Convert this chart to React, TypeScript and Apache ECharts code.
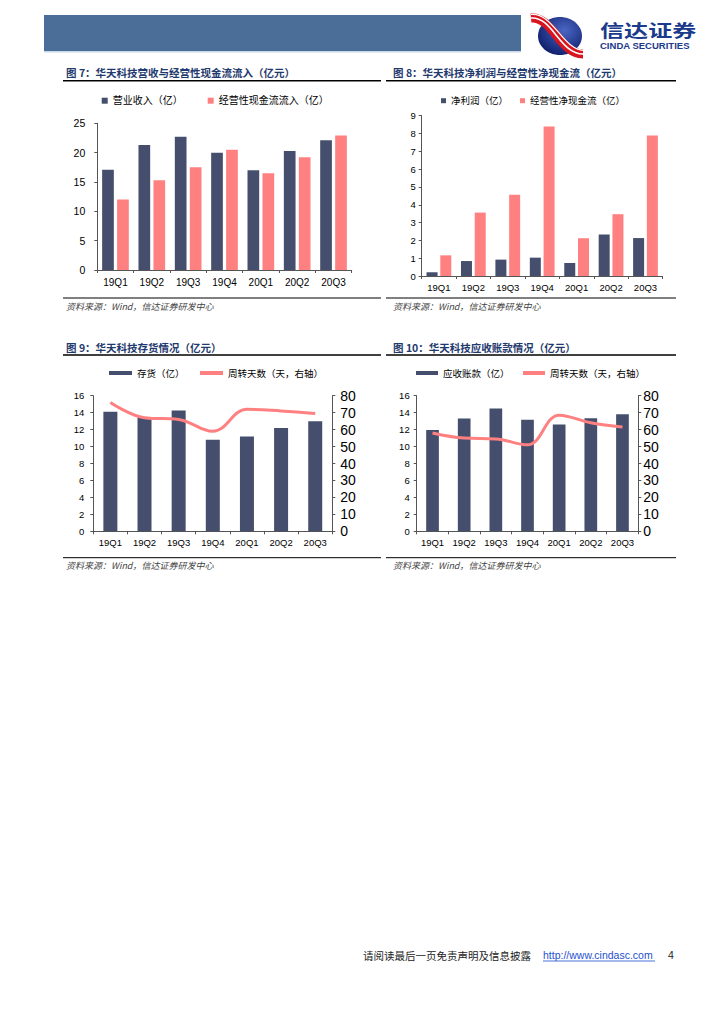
import React, { useEffect, useRef } from "react";
import * as echarts from "echarts";

const categories = ["19Q1", "19Q2", "19Q3", "19Q4", "20Q1", "20Q2", "20Q3"];
const revenue = [17.1, 21.3, 22.7, 20.0, 17.0, 20.3, 22.1];
const opCashIn = [12.0, 15.3, 17.5, 20.5, 16.5, 19.2, 22.9];
const netProfit = [0.21, 0.84, 0.92, 1.03, 0.73, 2.33, 2.13];
const opNetCash = [1.16, 3.56, 4.56, 8.4, 2.12, 3.47, 7.89];
const inventory = [14.1, 13.45, 14.25, 10.8, 11.2, 12.2, 13.0];
const invDays = [76, 67, 66, 59, 72, 71, 69.5];
const receivables = [11.95, 13.3, 14.5, 13.15, 12.6, 13.35, 13.8];
const arDays = [58, 55, 54.5, 51, 68.5, 64, 61.5];

const titles = [
  "图 7：华天科技营收与经营性现金流流入（亿元）",
  "图 8：华天科技净利润与经营性净现金流（亿元）",
  "图 9：华天科技存货情况（亿元）",
  "图 10：华天科技应收账款情况（亿元）",
];
const sourceText = "资料来源：Wind，信达证券研发中心";

const NAVY = "#454f6d";
const PINK = "#ff8080";
const AXIS = "#555";
const FONT = "'Liberation Sans', Arial, 'Noto Sans CJK SC', sans-serif";
const CJK = "'Noto Sans CJK SC', sans-serif";

function catAxis(gridIndex: number, fontSize: number, margin: number) {
  return {
    type: "category",
    gridIndex,
    data: categories,
    axisLine: { show: true, lineStyle: { color: AXIS, width: 1 } },
    axisTick: { show: true, length: 3, lineStyle: { color: AXIS } },
    axisLabel: { color: "#000", fontSize, margin, fontFamily: FONT },
    splitLine: { show: false },
  };
}

function valAxis(
  gridIndex: number,
  max: number,
  interval: number,
  fontSize: number,
  margin: number,
  position: string = "left"
) {
  return {
    type: "value",
    gridIndex,
    position,
    min: 0,
    max,
    interval,
    axisLine: { show: true, lineStyle: { color: AXIS, width: 1 } },
    axisTick: { show: true, length: 3, lineStyle: { color: AXIS } },
    axisLabel: { color: "#000", fontSize, margin, fontFamily: FONT },
    splitLine: { show: false },
  };
}

function txt(x: number, y: number, text: string, fontSize: number, fill: string, extra: any = {}) {
  return {
    type: "text",
    x,
    y,
    style: {
      text,
      fontSize,
      fill,
      fontFamily: CJK,
      align: "left",
      verticalAlign: "middle",
      ...extra,
    },
  };
}

function hline(x1: number, x2: number, y: number, w: number, color = "#000") {
  return {
    type: "line",
    shape: { x1, y1: y, x2, y2: y },
    style: { stroke: color, lineWidth: w },
  };
}

export default function App() {
  const ref = useRef<HTMLDivElement>(null);
  useEffect(() => {
    if (!ref.current) return;
    const chart = echarts.init(ref.current, undefined, { renderer: "svg" });

    const titleStyle = { fontWeight: "bold", fontFamily: CJK };
    const srcStyle = { fontStyle: "italic", fontFamily: CJK };

    const graphic: any[] = [
      // header band
      { type: "rect", shape: { x: 44, y: 15, width: 477, height: 36 }, style: { fill: "#4b6e98" } },
      { type: "rect", shape: { x: 44, y: 51, width: 477, height: 1.5 }, style: { fill: "#c9d7e8" } },
      // logo
      {
        type: "ellipse",
        shape: { cx: 560, cy: 36, rx: 22, ry: 19 },
        style: {
          fill: new echarts.graphic.RadialGradient(0.6, 0.35, 0.7, [
            { offset: 0, color: "#4a66c4" },
            { offset: 1, color: "#0e1d6a" },
          ]),
        },
      },
      {
        type: "bezierCurve",
        shape: { x1: 531, y1: 18, cpx1: 552, cpy1: 16, cpx2: 560, cpy2: 54, x2: 583, y2: 54 },
        style: { stroke: "#d8141e", lineWidth: 9, fill: "none" },
      },
      {
        type: "bezierCurve",
        shape: { x1: 531, y1: 18, cpx1: 552, cpy1: 16, cpx2: 560, cpy2: 54, x2: 583, y2: 54 },
        style: { stroke: "#ffffff", lineWidth: 1.6, fill: "none" },
      },
      {
        type: "bezierCurve",
        shape: { x1: 531, y1: 14.5, cpx1: 554, cpy1: 12.5, cpx2: 562, cpy2: 50.5, x2: 585, y2: 50.5 },
        style: { stroke: "#ffffff", lineWidth: 1.2, fill: "none" },
      },
      {
        type: "text",
        x: 600,
        y: 30,
        scaleX: 1.42,
        style: {
          text: "信达证券",
          fontSize: 17,
          fontWeight: "bold",
          fill: "#1b3a8c",
          fontFamily: CJK,
          align: "left",
          verticalAlign: "middle",
        },
      },
      {
        type: "text",
        x: 600,
        y: 46.5,
        scaleX: 1.12,
        style: {
          text: "CINDA SECURITIES",
          fontSize: 8.5,
          fontWeight: "bold",
          fill: "#1b3a8c",
          fontFamily: FONT,
          align: "left",
          verticalAlign: "middle",
        },
      },
      // chart 7 frame
      txt(66, 72, titles[0], 10.5, "#1f3a6e", titleStyle),
      hline(63, 381, 80.7, 1.5),
      hline(63, 381, 298, 1),
      txt(66, 306, sourceText, 9, "#444", srcStyle),
      // chart 8 frame
      txt(393, 72, titles[1], 10.5, "#1f3a6e", titleStyle),
      hline(386, 676, 80.7, 1.5),
      hline(386, 676, 298, 1),
      txt(393, 306, sourceText, 9, "#444", srcStyle),
      // chart 9 frame
      txt(66, 347, titles[2], 10.5, "#1f3a6e", titleStyle),
      hline(63, 381, 355, 1.5),
      hline(63, 381, 557.7, 1),
      txt(66, 565, sourceText, 9, "#444", srcStyle),
      // chart 10 frame
      txt(393, 347, titles[3], 10.5, "#1f3a6e", titleStyle),
      hline(386, 676, 355, 1.5),
      hline(386, 676, 557.7, 1),
      txt(393, 565, sourceText, 9, "#444", srcStyle),
      // footer
      txt(363, 955, "请阅读最后一页免责声明及信息披露", 10.5, "#222"),
      txt(543, 955, "http://www.cindasc.com", 10.5, "#1f4fd0", { fontFamily: FONT }),
      hline(543, 655, 961, 0.8, "#1f4fd0"),
      txt(668, 955, "4", 10.5, "#222", { fontFamily: FONT }),
    ];

    const legendText = (fs: number) => ({ color: "#000", fontSize: fs, fontFamily: FONT, lineHeight: 12 });

    chart.setOption({
      animation: false,
      backgroundColor: "#fff",
      graphic,
      grid: [
        { left: 97.3, right: 724 - 351.7, top: 123.3, bottom: 1024 - 270, containLabel: false },
        { left: 421.7, right: 724 - 662.7, top: 115.7, bottom: 1024 - 276, containLabel: false },
        { left: 93.3, right: 724 - 332.3, top: 395.7, bottom: 1024 - 531.3, containLabel: false },
        { left: 416.7, right: 724 - 638.3, top: 395.7, bottom: 1024 - 531.3, containLabel: false },
      ],
      legend: [
        {
          left: 101.7, top: 94.7, padding: 0, itemWidth: 6, itemHeight: 6, itemGap: 25, icon: "rect",
          data: ["营业收入（亿）", "经营性现金流流入（亿）"], textStyle: legendText(10), selectedMode: false,
        },
        {
          left: 441, top: 94.7, padding: 0, itemWidth: 5, itemHeight: 5, itemGap: 12, icon: "rect",
          data: ["净利润（亿）", "经营性净现金流（亿）"], textStyle: legendText(9.5), selectedMode: false,
        },
        {
          left: 109, top: 367, padding: 0, itemWidth: 23, itemHeight: 4, itemGap: 15.5, icon: "rect",
          data: ["存货（亿）", "周转天数（天，右轴）"], textStyle: legendText(9.5), selectedMode: false,
        },
        {
          left: 416, top: 367, padding: 0, itemWidth: 22, itemHeight: 4, itemGap: 13.5, icon: "rect",
          data: ["应收账款（亿）", "周转天数（天，右轴） "], textStyle: legendText(9.5), selectedMode: false,
        },
      ],
      xAxis: [catAxis(0, 10, 7), catAxis(1, 9.5, 7), catAxis(2, 9.5, 6), catAxis(3, 9.5, 6)],
      yAxis: [
        valAxis(0, 25, 5, 10.5, 12),
        valAxis(1, 9, 1, 9.5, 6),
        valAxis(2, 16, 2, 9.5, 9),
        valAxis(2, 80, 10, 14, 8, "right"),
        valAxis(3, 16, 2, 9.5, 7),
        valAxis(3, 80, 10, 14, 5, "right"),
      ],
      series: [
        { name: "营业收入（亿）", type: "bar", xAxisIndex: 0, yAxisIndex: 0, data: revenue, barWidth: 11.7, barGap: "28%", itemStyle: { color: NAVY } },
        { name: "经营性现金流流入（亿）", type: "bar", xAxisIndex: 0, yAxisIndex: 0, data: opCashIn, barWidth: 11.7, barGap: "28%", itemStyle: { color: PINK } },
        { name: "净利润（亿）", type: "bar", xAxisIndex: 1, yAxisIndex: 1, data: netProfit, barWidth: 11, barGap: "25%", itemStyle: { color: NAVY } },
        { name: "经营性净现金流（亿）", type: "bar", xAxisIndex: 1, yAxisIndex: 1, data: opNetCash, barWidth: 11, barGap: "25%", itemStyle: { color: PINK } },
        { name: "存货（亿）", type: "bar", xAxisIndex: 2, yAxisIndex: 2, data: inventory, barWidth: 14, itemStyle: { color: NAVY } },
        { name: "周转天数（天，右轴）", type: "line", xAxisIndex: 2, yAxisIndex: 3, data: invDays, smooth: 0.4, symbol: "none", lineStyle: { color: PINK, width: 3 }, itemStyle: { color: PINK } },
        { name: "应收账款（亿）", type: "bar", xAxisIndex: 3, yAxisIndex: 4, data: receivables, barWidth: 12.7, itemStyle: { color: NAVY } },
        { name: "周转天数（天，右轴） ", type: "line", xAxisIndex: 3, yAxisIndex: 5, data: arDays, smooth: 0.4, symbol: "none", lineStyle: { color: PINK, width: 3 }, itemStyle: { color: PINK } },
      ],
    });
    return () => chart.dispose();
  }, []);

  return (
    <div
      ref={ref}
      style={{ position: "absolute", left: 0, top: 0, width: 724, height: 1024, background: "#fff" }}
    />
  );
}
